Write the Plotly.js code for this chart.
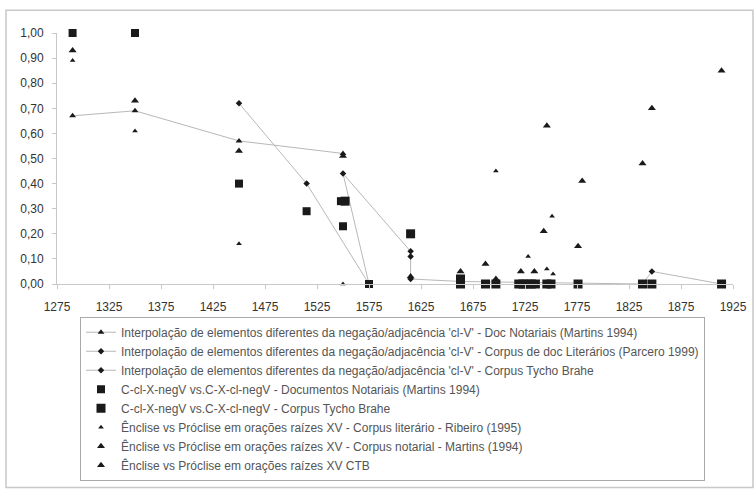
<!DOCTYPE html>
<html>
<head>
<meta charset="utf-8">
<script src="https://cdn.plot.ly/plotly-3.0.1.min.js"></script>
<style>html,body{margin:0;padding:0;background:#fff;}#chart{width:756px;height:493px;}</style>
</head>
<body>
<div id="chart"></div>
<script>
// Series names
const names = [
  "Interpolação de elementos diferentes da negação/adjacência 'cl-V' - Doc Notariais (Martins 1994)",
  "Interpolação de elementos diferentes da negação/adjacência 'cl-V' - Corpus de doc Literários (Parcero 1999)",
  "Interpolação de elementos diferentes da negação/adjacência 'cl-V' - Corpus Tycho Brahe",
  "C-cl-X-negV vs.C-X-cl-negV - Documentos Notariais (Martins 1994)",
  "C-cl-X-negV vs.C-X-cl-negV - Corpus Tycho Brahe",
  "Ênclise vs Próclise em orações raízes XV - Corpus literário - Ribeiro (1995)",
  "Ênclise vs Próclise em orações raízes XV - Corpus notarial - Martins (1994)",
  "Ênclise vs Próclise em orações raízes XV CTB"
];

// Data
const s1x = [1290, 1350, 1450, 1550];
const s1y = [0.67, 0.69, 0.57, 0.52];

const s2x = [1450, 1515, 1575];
const s2y = [0.72, 0.40, 0.00];

const s3x = [1575, 1550, 1615, 1615, 1615, 1663, 1838, 1847, 1914];
const s3y = [0.00, 0.44, 0.13, 0.11, 0.02, 0.01, 0.00, 0.05, 0.00];

const s4x = [1290, 1350, 1450, 1515, 1548, 1550, 1575];
const s4y = [1.00, 1.00, 0.40, 0.29, 0.33, 0.23, 0.00];

const s5x = [1552, 1615, 1663, 1663, 1687, 1697, 1719, 1723, 1727, 1731, 1735, 1746, 1750, 1776, 1838, 1847, 1914];
const s5y = [0.33, 0.20, 0.02, 0.00, 0.00, 0.00, 0.00, 0.00, 0.00, 0.00, 0.00, 0.00, 0.00, 0.00, 0.00, 0.00, 0.00];

const s6x = [1290, 1350, 1450, 1550, 1697, 1728, 1746, 1751, 1752];
const s6y = [0.89, 0.61, 0.16, 0.00, 0.45, 0.11, 0.06, 0.27, 0.04];

const s7x = [1290, 1350, 1450, 1550];
const s7y = [0.93, 0.73, 0.53, 0.51];

const s8x = [1615, 1663, 1687, 1697, 1721, 1734, 1743, 1746, 1776, 1780, 1838, 1847, 1914];
const s8y = [0.03, 0.05, 0.08, 0.02, 0.05, 0.05, 0.21, 0.63, 0.15, 0.41, 0.48, 0.70, 0.85];

const lineCol = '#b8b8b8';
const mk = '#1a1a1a';

const xs = [s1x, s2x, s3x, s4x, s5x, s6x, s7x, s8x];
const ys = [s1y, s2y, s3y, s4y, s5y, s6y, s7y, s8y];
const modes = ['lines+markers','lines+markers','lines+markers','markers','markers','markers','markers','markers'];
const symbols = ['triangle-up','diamond','diamond','square','square','triangle-up','triangle-up','triangle-up'];
const sizes = [6, 5, 5, 8, 9, 5, 7, 7];

const traces = names.map((n, i) => ({
  type: 'scatter',
  mode: modes[i],
  name: n,
  x: xs[i],
  y: ys[i],
  legendgroup: 'g' + i,
  cliponaxis: false,
  line: {color: lineCol, width: 1},
  marker: {symbol: symbols[i], size: sizes[i], color: mk, line: {width: 0}}
}));

const L = 57, R = 733, T = 33, B = 286;
const W = 756, H = 493;
const pw = R - L, ph = B - T;
function px(x){ return (x - L) / pw; }
function py(y){ return (B - y) / ph; }

const layout = {
  width: W, height: H,
  margin: {l: L, r: W - R, t: T, b: H - B},
  paper_bgcolor: '#fff',
  plot_bgcolor: '#fff',
  separators: ', ',
  font: {family: 'Liberation Sans, Arial, sans-serif', color: '#333'},
  showlegend: true,
  xaxis: {
    range: [1275, 1925],
    tick0: 1275, dtick: 50,
    tickformat: 'd',
    showgrid: false, zeroline: false,
    showline: true, linecolor: '#c8c8c8', linewidth: 1,
    ticks: 'outside', ticklen: 4, tickcolor: '#c8c8c8',
    ticklabelstandoff: 8,
    tickfont: {size: 12, color: '#333'}
  },
  yaxis: {
    range: [0, 1],
    tick0: 0, dtick: 0.1,
    tickformat: '.2f',
    showgrid: false, zeroline: false,
    showline: true, linecolor: '#c8c8c8', linewidth: 1,
    ticks: 'outside', ticklen: 4, tickcolor: '#c8c8c8',
    ticklabelstandoff: 6,
    tickfont: {size: 12, color: '#333'}
  },
  legend: {
    x: px(80), y: py(319), xanchor: 'left', yanchor: 'top',
    bgcolor: '#fff', bordercolor: '#aaa', borderwidth: 1,
    font: {size: 12, color: '#555'},
    tracegroupgap: 1,
    traceorder: 'normal'
  },
  shapes: [{
    type: 'rect', xref: 'paper', yref: 'paper',
    x0: px(6), x1: px(753), y0: py(491), y1: py(10),
    line: {color: '#c8c8c8', width: 1.5}, fillcolor: 'rgba(0,0,0,0)', layer: 'below'
  }]
};

Plotly.newPlot('chart', traces, layout, {displayModeBar: false, staticPlot: true});
</script>
</body>
</html>
